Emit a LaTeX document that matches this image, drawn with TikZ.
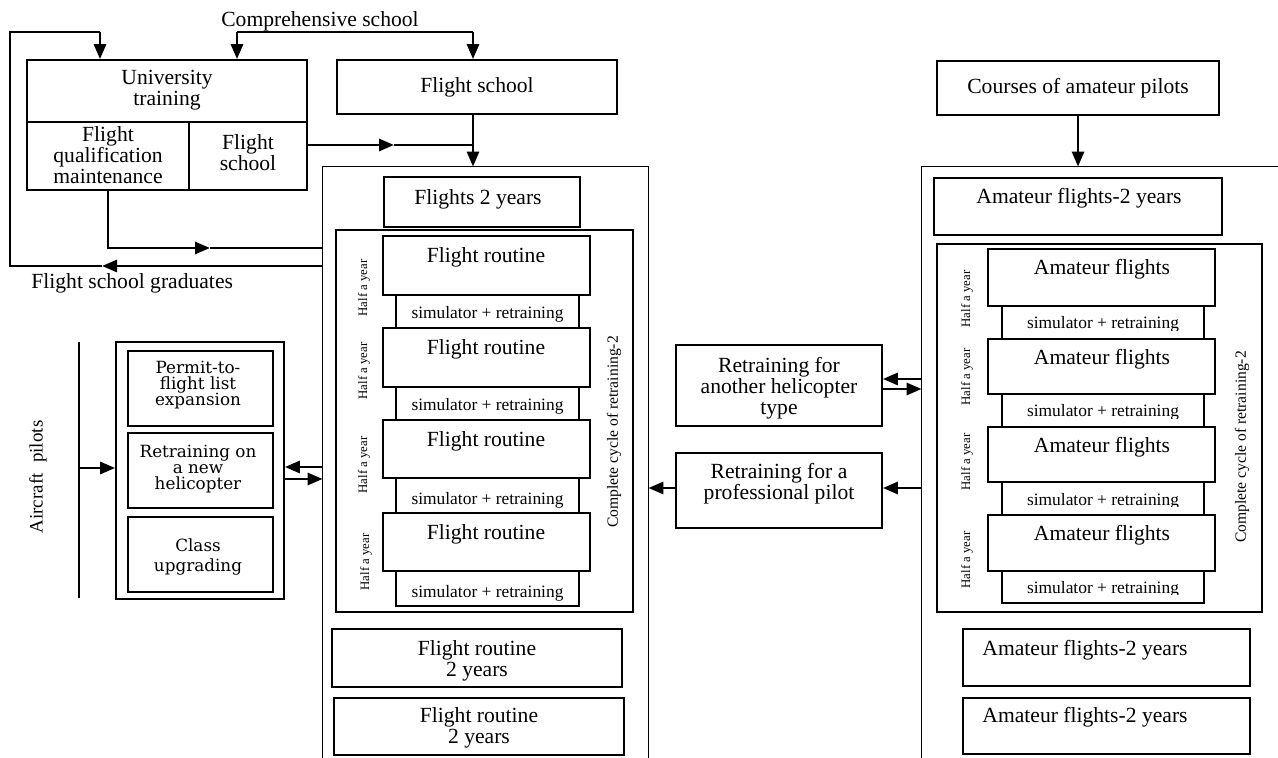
\documentclass[tikz,border=0pt]{standalone}
\usepackage{fontspec}
\setmainfont{Liberation Serif}
\newfontfamily\schoolbook{DejaVu Serif}
\usetikzlibrary{arrows.meta,fit}
\tikzset{
  bx/.style={draw, line width=0.85pt, fill=white, inner sep=0pt},
  openfr/.style={inner sep=0pt},
  lbl/.style={font=\fontsize{10.8}{10.4}\selectfont, align=center, inner sep=0pt},
  lbls/.style={font=\schoolbook\fontsize{8.4}{8.2}\selectfont, align=center, inner sep=0pt},
  simtxt/.style={font=\fontsize{8.7}{9}\selectfont, inner sep=0pt, anchor=base},
  halfyr/.style={font=\fontsize{6.4}{7}\selectfont, rotate=90, inner sep=0pt},
  cyclbl/.style={font=\fontsize{7.8}{8}\selectfont, rotate=90, inner sep=0pt},
  lnthin/.style={line width=0.75pt},
  lnmed/.style={line width=1pt},
  frameln/.style={line width=0.85pt},
  arr/.style={line width=1.4pt, -{Triangle[length=7.5pt,width=6pt]}},
}
% simulator block: name, x1, y1, x2, y2, text baseline, clip bottom
\newcommand\simblk[7]{%
  \node[bx, fit={(#2,#3) (#4,#5)}] (#1) {};
  \begin{scope}
    \clip (#2,#3) rectangle (#4,#7);
    \node[simtxt] (#1-t) at (#1.center |- 0,#6) {simulator + retraining};
  \end{scope}}
\begin{document}
\begin{tikzpicture}[x=0.5pt,y=-0.5pt]
\useasboundingbox (0,0) rectangle (1278,758);

% ---------- sources ----------
\node[lbl] (comp) at (320,21) {Comprehensive school};
\coordinate (compL) at (237,32);
\coordinate (compR) at (473,32);
\draw[lnmed] (compL) -- (compR);

\node[bx, fit={(27,60) (307,122)}] (univ) {};
\node[lbl] (univT) at (167,90) {University\\training};
\node[bx, fit={(27,122) (189,190)}] (qual) {};
\node[lbl] (qualT) at (108,155) {Flight\\qualification\\maintenance};
\node[bx, fit={(189,122) (307,190)}] (ucell) {};
\node[lbl] (ucellT) at (248,153) {Flight\\school};

\node[bx, fit={(337,60) (617,114)}] (fsch) {};
\node[lbl] (fschT) at (477,87) {Flight school};

% ---------- professional column frame ----------
\node[openfr, fit={(323,167) (648,758)}] (mid) {};
\draw[frameln] (mid.south west) -- (mid.north west) -- (mid.north east) -- (mid.south east);

% ---------- upper connectors ----------
\draw[arr] (compL) -- (compL |- univ.north);
\draw[arr] (compR) -- (compR |- fsch.north);
\draw[arr] (compR |- fsch.south) -- (compR |- mid.north);
\coordinate (fsJoin) at (394,145);
\draw[arr] (ucell.east |- fsJoin) -- (fsJoin);
\draw[lnthin] (fsJoin) -- (compR |- fsJoin);

\coordinate (qualTip) at (210,248);
\draw[arr] (qual.south) |- (qualTip);
\draw[lnthin] (qualTip) -- (mid.west |- qualTip);

\coordinate (gradTail) at (182,266);
\coordinate (gradTip) at (102,266);
\coordinate (loopBL) at (10,266);
\coordinate (loopTL) at (10,32);
\coordinate (loopTR) at (100,32);
\draw[lnthin] (mid.west |- gradTail) -- (gradTail);
\draw[arr] (gradTail) -- (gradTip);
\draw[lnthin] (gradTip) -- (loopBL) -- (loopTL) -- (loopTR);
\draw[arr] (loopTR) -- (loopTR |- univ.north);
\node[lbl, anchor=west] (grad) at (31,283) {Flight school graduates};

% ---------- professional column contents ----------
\node[bx, fit={(384,177) (580,227)}] (f2y) {};
\node[lbl] (f2yT) at (478,199) {Flights 2 years};
\node[bx, fit={(336,230) (633,612)}] (midcyc) {};

\simblk{msim1}{396}{295}{579}{328}{319}{328}
\simblk{msim2}{396}{387}{579}{420}{411}{420}
\simblk{msim3}{396}{478}{579}{513}{504}{513}
\simblk{msim4}{396}{571}{579}{606}{597}{606}

\node[bx, fit={(383,236) (590,295)}] (mfr1) {};
\node[lbl] (mfr1T) at (486,257) {Flight routine};
\node[bx, fit={(383,328) (590,387)}] (mfr2) {};
\node[lbl] (mfr2T) at (486,349) {Flight routine};
\node[bx, fit={(383,420) (590,478)}] (mfr3) {};
\node[lbl] (mfr3T) at (486,441) {Flight routine};
\node[bx, fit={(383,513) (590,571)}] (mfr4) {};
\node[lbl] (mfr4T) at (486,534) {Flight routine};

\node[halfyr] (mh1) at (364,288) {Half a year};
\node[halfyr] (mh2) at (364,371) {Half a year};
\node[halfyr] (mh3) at (364,465) {Half a year};
\node[halfyr] (mh4) at (366,562) {Half a year};
\node[cyclbl] (mcyc) at (614,432) {Complete cycle of retraining-2};

\node[bx, fit={(332,629) (622,687)}] (mlong1) {};
\node[lbl] (mlong1T) at (477,661) {Flight routine\\2 years};
\node[bx, fit={(334,698) (624,755)}] (mlong2) {};
\node[lbl] (mlong2T) at (479,728) {Flight routine\\2 years};

% ---------- aircraft pilots group ----------
\coordinate (apTop) at (79,342);
\coordinate (apBot) at (79,598);
\draw[lnthin] (apTop) -- (apBot);
\node[font=\fontsize{9.5}{10}\selectfont, rotate=90, inner sep=0pt] (ap) at (38,477) {Aircraft\hspace{0.55em}pilots};
\node[bx, fit={(116,342) (284,599)}] (lgrp) {};
\node[bx, fit={(128,351) (273,426)}] (lg1) {};
\node[lbls] (lg1T) at (198,385) {Permit-to-\\flight list\\expansion};
\node[bx, fit={(128,433) (273,508)}] (lg2) {};
\node[lbls] (lg2T) at (198,469) {Retraining on\\a new\\helicopter};
\node[bx, fit={(128,517) (273,592)}] (lg3) {};
\node[lbls] (lg3T) at (198,557) {Class\\[1.5pt]upgrading};

\draw[arr] (apTop |- 0,468) -- (lgrp.west |- 0,468);
\draw[arr] (mid.west |- 0,467) -- (lgrp.east |- 0,467);
\draw[arr] (lgrp.east |- 0,479) -- (mid.west |- 0,479);

% ---------- retraining boxes ----------
\node[bx, fit={(676,345) (882,426)}] (rtype) {};
\node[lbl] (rtypeT) at (779,388) {Retraining for\\another helicopter\\type};
\node[bx, fit={(676,453) (882,528)}] (rpro) {};
\node[lbl] (rproT) at (779,484) {Retraining for a\\professional pilot};

% ---------- amateur column ----------
\node[bx, fit={(937,61) (1219,115)}] (cours) {};
\node[lbl] (coursT) at (1078,88) {Courses of amateur pilots};
\node[openfr, fit={(922,167) (1278,758)}] (amat) {};
\draw[frameln] (amat.south west) -- (amat.north west) -- (amat.north east);

\draw[arr] (cours.south) -- (cours.south |- amat.north);
\draw[arr] (amat.west |- 0,379) -- (rtype.east |- 0,379);
\draw[arr] (rtype.east |- 0,389) -- (amat.west |- 0,389);
\draw[arr] (amat.west |- 0,488) -- (rpro.east |- 0,488);
\draw[arr] (rpro.west |- 0,488) -- (mid.east |- 0,488);

\node[bx, fit={(934,178) (1222,235)}] (a2y) {};
\node[lbl] (a2yT) at (1079,198) {Amateur flights-2 years};
\node[bx, fit={(937,244) (1262,612)}] (acyc) {};

\simblk{asim1}{1002}{306}{1204}{339}{329}{330.5}
\simblk{asim2}{1002}{394}{1204}{427}{417}{418.5}
\simblk{asim3}{1002}{482}{1204}{515}{505}{506.5}
\simblk{asim4}{1002}{571}{1204}{603}{593}{594.5}

\node[bx, fit={(988,249) (1215,306)}] (af1) {};
\node[lbl] (af1T) at (1102,269) {Amateur flights};
\node[bx, fit={(988,339) (1215,394)}] (af2) {};
\node[lbl] (af2T) at (1102,359) {Amateur flights};
\node[bx, fit={(988,427) (1215,482)}] (af3) {};
\node[lbl] (af3T) at (1102,447) {Amateur flights};
\node[bx, fit={(988,515) (1215,571)}] (af4) {};
\node[lbl] (af4T) at (1102,535) {Amateur flights};

\node[halfyr] (ah1) at (967,299) {Half a year};
\node[halfyr] (ah2) at (967,377) {Half a year};
\node[halfyr] (ah3) at (967,462) {Half a year};
\node[halfyr] (ah4) at (967,560) {Half a year};
\node[cyclbl] (acycT) at (1242,447) {Complete cycle of retraining-2};

\node[bx, fit={(963,629) (1250,686)}] (along1) {};
\node[lbl] (along1T) at (1085,650) {Amateur flights-2 years};
\node[bx, fit={(963,698) (1250,754)}] (along2) {};
\node[lbl] (along2T) at (1085,717) {Amateur flights-2 years};
\end{tikzpicture}
\end{document}
